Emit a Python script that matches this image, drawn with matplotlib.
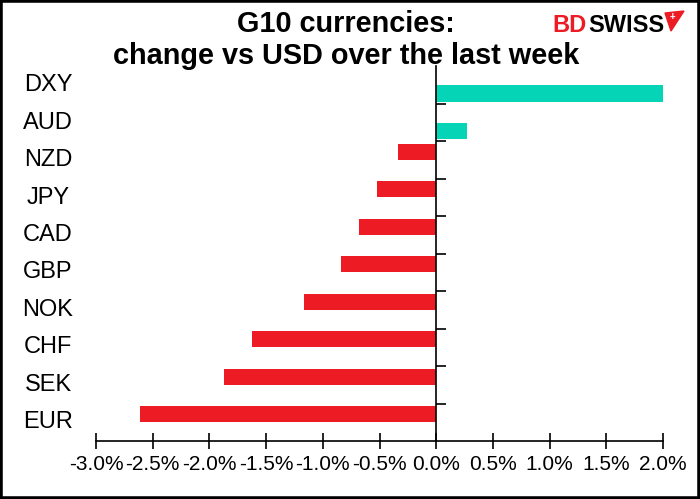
import numpy as np
import matplotlib
matplotlib.use('Agg')
from matplotlib import pyplot as plt
from matplotlib.patches import Rectangle, Polygon
from matplotlib.transforms import blended_transform_factory

plt.rcParams['font.family'] = ['Liberation Sans', 'DejaVu Sans']

# weekly change vs USD, % (top to bottom as shown)
currencies = ['DXY', 'AUD', 'NZD', 'JPY', 'CAD', 'GBP', 'NOK', 'CHF', 'SEK', 'EUR']
changes = [2.01, 0.27, -0.34, -0.52, -0.68, -0.84, -1.17, -1.62, -1.87, -2.61]
xtick_vals = [-3.0, -2.5, -2.0, -1.5, -1.0, -0.5, 0.0, 0.5, 1.0, 1.5, 2.0]

W, H = 700, 499
fig = plt.figure(figsize=(7, 4.99), dpi=100)
ax = fig.add_axes([96 / W, 58 / H, 567 / W, 374.5 / H])

red = '#ED1C24'
teal = '#05D5B6'
ypos = np.arange(len(currencies))[::-1]
vals = np.array(changes)
# Excel-style two series (up/down) so bars sit off-centre in each band
pos = vals > 0
ax.barh(ypos[pos] - 0.22, vals[pos], height=0.43, color=teal)
ax.barh(ypos[~pos] + 0.22, vals[~pos], height=0.43, color=red)

ax.set_xlim(-3, 2)
ax.set_ylim(-0.5, len(currencies) - 0.5)
ax.set_xticks(xtick_vals)
ax.set_xticklabels([f'{v:.1f}%' for v in xtick_vals], fontsize=15)
ax.tick_params(axis='x', direction='inout', length=12, width=1.2, pad=4)

ax.set_yticks(np.arange(len(currencies) - 1) + 0.5)
ax.set_yticklabels([])
ax.tick_params(axis='y', direction='in', length=7, width=1.2)

for s in ['top', 'right']:
    ax.spines[s].set_visible(False)
ax.spines['left'].set_position(('data', 0))
ax.spines['left'].set_linewidth(1.2)
ax.spines['bottom'].set_linewidth(1.2)

trans = blended_transform_factory(ax.transAxes, ax.transData)
for name, y in zip(currencies, ypos):
    ax.text(-48 / 567, y, name, transform=trans, ha='center', va='center', fontsize=17)

# two-line title, one text per line
fig.text(346 / W, 1 - 32 / H, 'G10 currencies:', ha='center', va='baseline',
         fontsize=20.8, fontweight='bold')
fig.text(346 / W, 1 - 64 / H, 'change vs USD over the last week', ha='center',
         va='baseline', fontsize=20.8, fontweight='bold')

# logo
fig.text(587 / W, 1 - 32 / H, 'BD', ha='right', va='baseline', fontsize=17,
         fontweight='bold', color=red)
fig.text(588 / W, 1 - 32 / H, 'SWISS', ha='left', va='baseline', fontsize=17,
         fontweight='bold', color='black')
pts = [(665 / W, 1 - 13 / H), (684 / W, 1 - 11 / H), (671 / W, 1 - 31 / H)]
fig.patches.append(Polygon(pts, closed=True, color=red, transform=fig.transFigure))
fig.text(672 / W, 1 - 17 / H, '+', ha='center', va='center', fontsize=7,
         fontweight='bold', color='white')

fig.patches.append(Rectangle((0, 0), 1, 1, transform=fig.transFigure, fill=False,
                             edgecolor='black', linewidth=4))

plt.savefig('out.png', dpi=100)
